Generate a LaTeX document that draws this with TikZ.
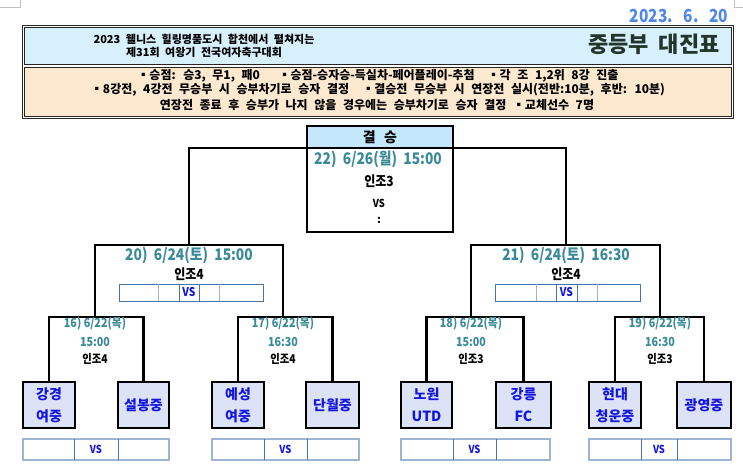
\documentclass[tikz,border=0pt]{standalone}
\usepackage{fontspec}
\setmainfont{Noto Sans CJK KR}
\newfontfamily\krn{Noto Sans CJK KR}[FakeStretch=0.86]
\usetikzlibrary{positioning}

\definecolor{hdrblue}{HTML}{D7F0FC}
\definecolor{hdrtan}{HTML}{FCE9CF}
\definecolor{finfill}{HTML}{C4E7FB}
\definecolor{teamfill}{HTML}{DCE3F7}
\definecolor{teamblue}{HTML}{1515E0}
\definecolor{tealtxt}{HTML}{3A8A98}
\definecolor{dateblue}{HTML}{4F86E8}
\definecolor{titlegreen}{HTML}{22352A}
\definecolor{barout}{HTML}{9DB4D4}
\definecolor{barin}{HTML}{4A72A8}

\tikzset{
  widesp/.style={execute at begin node={\spaceskip=#1\relax}},
  bline/.style={line width=2.4pt},
  teambox/.style={draw, line width=2.4pt, fill=teamfill, text=teamblue,
    font=\bfseries\fontsize{14}{22}\selectfont, align=center,
    minimum height=46pt, inner sep=0pt, outer sep=0pt},
  finbox/.style={draw, line width=2.4pt, minimum width=146pt, inner sep=0pt, outer sep=0pt},
  datetxt/.style={text=tealtxt, font=\krn\bfseries\fontsize{16}{16}\selectfont, widesp=0.4em, inner sep=0pt},
  qftxt/.style={text=tealtxt, font=\krn\bfseries\fontsize{12.5}{12.5}\selectfont, inner sep=0pt},
  fieldtxt/.style={font=\krn\bfseries\fontsize{14}{14}\selectfont, inner sep=0pt},
  qffield/.style={font=\krn\bfseries\fontsize{12}{12}\selectfont, inner sep=0pt},
  vstxt/.style={text=teamblue, font=\krn\bfseries\fontsize{11}{11}\selectfont, inner sep=0pt},
  hdrtxt/.style={font=\bfseries\fontsize{11}{11}\selectfont, widesp=0.5em, inner sep=0pt},
  ruletxt/.style={font=\bfseries\fontsize{12}{12}\selectfont, widesp=0.55em, inner sep=0pt}
}

\begin{document}
\begin{tikzpicture}[x=1pt,y=-1pt]
  \useasboundingbox (0,0) rectangle (743,474);

  % corner marks and date
  \draw[gray!50, line width=0.8pt] (0,7) -- (20,7) -- (20,0);
  \draw[gray!50, line width=0.8pt] (734,0) -- (734,7) -- (743,7);
  \node[text=dateblue, font=\krn\bfseries\fontsize{18}{18}\selectfont, inner sep=0pt] (date) at (679,16) {2023.\hspace{6pt} 6.\hspace{6pt} 20};

  % header
  \draw[black!85, line width=1pt] (22,25) rectangle (733,118);
  \draw[black!85, fill=hdrblue, line width=0.8pt] (24,27) rectangle (731,64);
  \draw[black!85, fill=hdrtan, line width=0.8pt] (24,67) rectangle (731,116);
  \node[hdrtxt] (title1) at (204,39) {2023 웰니스 힐링명품도시 합천에서 펼쳐지는};
  \node[hdrtxt] (title2) at (204,52) {제31회 여왕기 전국여자축구대회};
  \node[text=titlegreen, font=\bfseries\fontsize{22}{22}\selectfont, widesp=0.45em, inner sep=0pt] (title) at (654,44) {중등부 대진표};
  \node[ruletxt] (rule1) at (378,76) {▪승점: 승3, 무1, 패0 \quad ▪승점-승자승-득실차-페어플레이-추첨 \ ▪각 조 1,2위 8강 진출};
  \node[ruletxt] (rule2) at (378,90) {▪8강전, 4강전 무승부 시 승부차기로 승자 결정 \ ▪결승전 무승부 시 연장전 실시(전반:10분, 후반: 10분)};
  \node[ruletxt] (rule3) at (377,105) {연장전 종료 후 승부가 나지 않을 경우에는 승부차기로 승자 결정 ▪교체선수 7명};

  % final
  \node[finbox, fill=finfill, minimum height=22pt, font=\bfseries\fontsize{14}{14}\selectfont, widesp=0.6em] (fhead) at (380,137) {결 승};
  \node[finbox, fill=white, minimum height=84pt, below=0pt of fhead] (final) {};
  \node[datetxt] (d22) at (378,159) {22) 6/26(월) 15:00};
  \node[fieldtxt] (f22) at (379,181) {인조3};
  \node[font=\krn\bfseries\fontsize{11}{11}\selectfont, inner sep=0pt] (vs22) at (379,203) {VS};
  \node[font=\bfseries\fontsize{11}{11}\selectfont, inner sep=0pt] (sc22) at (379,220) {:};

  % match points
  \coordinate (s20) at (189,245);
  \coordinate (s21) at (566,245);
  \coordinate (q16) at (95,317);
  \coordinate (q17) at (283,317);
  \coordinate (q18) at (471,317);
  \coordinate (q19) at (660,317);

  % teams
  \foreach \n/\a/\b/\txt in {t1/23/75/{강경\\여중}, t2/118/169/{설봉중}, t3/212/264/{예성\\여중}, t4/306/359/{단월중},
      t5/401/452/{노원\\UTD}, t6/496/551/{강릉\\FC}, t7/589/641/{현대\\청운중}, t8/677/731/{광영중}}
    \node[teambox, minimum width={(\b-\a)*1pt}] (\n) at ({(\a+\b)/2},405) {\txt};

  % bracket lines
  \draw[bline] (s20) |- (fhead.south) -| (s21);
  \draw[bline] (q16) |- (s20) -| (q17);
  \draw[bline] (q18) |- (s21) -| (q19);
  \draw[bline] (t1.north) |- (q16) -| (t2.north);
  \draw[bline] (t3.north) |- (q17) -| (t4.north);
  \draw[bline] (t5.north) |- (q18) -| (t6.north);
  \draw[bline] (t7.north) |- (q19) -| (t8.north);

  % semifinal texts
  \node[datetxt] (d20) at (189,255) {20) 6/24(토) 15:00};
  \node[fieldtxt] (f20) at (189,274) {인조4};
  \node[datetxt] (d21) at (566,255) {21) 6/24(토) 16:30};
  \node[fieldtxt] (f21) at (566,274) {인조4};
  \foreach \a/\b/\c/\d/\e/\f in {119/158/179/199/219/263, 495/536/556/577/597/640}
  {
    \draw[barin, line width=0.9pt] (\a,284) rectangle (\f,301);
    \draw[barout, line width=0.9pt] (\b,284) -- (\b,301) (\e,284) -- (\e,301);
    \draw[barin, line width=0.9pt] (\c,284) -- (\c,301) (\d,284) -- (\d,301);
    \node[vstxt, font=\krn\bfseries\fontsize{12}{12}\selectfont] at ({(\c+\d)/2},292.5) {VS};
  }

  % quarterfinal texts
  \foreach \x/\num/\t/\f in {95/16/15:00/4, 283/17/16:30/4, 471/18/15:00/3, 660/19/16:30/3}
  {
    \node[qftxt] at (\x,324) {\num) 6/22(목)};
    \node[qftxt] at (\x,342) {\t};
    \node[qffield] at (\x,359) {인조\f};
  }

  % score bars
  \foreach \a/\b/\c/\d in {23/74/118/169, 212/264/307/359, 401/453/496/550, 589/641/677/731}
  {
    \draw[barout, line width=1.6pt] (\a,439) rectangle (\d,460);
    \draw[barin, line width=0.9pt] (\b,439) -- (\b,460) (\c,439) -- (\c,460);
    \node[vstxt] at ({(\b+\c)/2},449.5) {VS};
  }
\end{tikzpicture}
\end{document}
